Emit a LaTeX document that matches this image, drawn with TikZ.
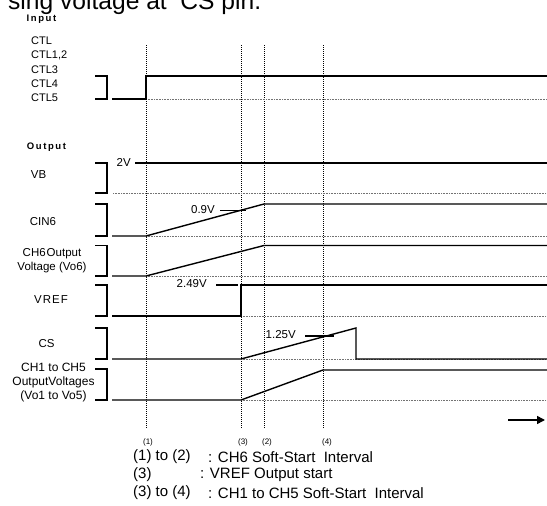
\documentclass[tikz,border=0pt]{standalone}
\usepackage{fontspec}
\setmainfont{Liberation Sans}
\usetikzlibrary{arrows.meta}
\begin{document}
\begin{tikzpicture}[x=1pt,y=-1pt,
  sig/.style={line width=1.4pt, line join=miter},
  brk/.style={line width=1.4pt},
  hbase/.style={line width=0.7pt, dash pattern=on 1pt off 0.6pt, black!55},
  vguide/.style={line width=0.6pt, dash pattern=on 1pt off 1pt, black},
  lab/.style={font=\fontsize{11.5}{14}\selectfont, align=center, inner sep=0pt},
  hdr/.style={font=\fontsize{9.5}{10}\selectfont\bfseries, inner sep=0pt},
  val/.style={font=\fontsize{11.5}{13}\selectfont, inner sep=0pt, anchor=east},
  pmark/.style={font=\fontsize{8}{9}\selectfont, inner sep=0pt},
  leg/.style={font=\fontsize{15}{17}\selectfont, inner sep=0pt, anchor=west},
  tickln/.style={line width=1.2pt}]
\useasboundingbox (0,0) rectangle (547,506);
\clip (0,0) rectangle (547,506);

% title fragment (cut off at top)
\node[font=\fontsize{24.6}{28}\selectfont, inner sep=0pt, anchor=base west] (title) at (8,9.5) {sing voltage at\ \ CS pin.};

% time points
\foreach \n/\x in {t1/146, t3/241, t2/264, t4/323} {
  \coordinate (\n top) at (\x,45);
  \coordinate (\n bot) at (\x,429);
  \draw[vguide] (\n top) -- (\n bot);
}

% headers
\node[hdr] (input) at (41.5,19) {I\kern1.6pt n\kern1.6pt p\kern1.6pt u\kern1.6pt t};
\node[hdr] (output) at (46.5,147) {O\kern1.6pt u\kern1.6pt t\kern1.6pt p\kern1.6pt u\kern1.6pt t};

% ---------- CTL ----------
\foreach \t/\y [count=\i] in {CTL/41, CTL1{,}2/55, CTL3/70, CTL4/84, CTL5/98}
  \node[lab, font=\fontsize{11}{13}\selectfont, anchor=west] (ctl\i) at (31,\y) {\t};
\draw[brk] (95,76) -- (107,76) -- (107,99) -- (95,99);
\draw[hbase] (146,99) -- (547,99);
\draw[sig] (112,99) -- (146,99) -- (146,76) -- (547,76);

% ---------- VB ----------
\node[lab] (vb) at (38.5,175) {VB};
\draw[brk] (95,163) -- (107,163) -- (107,193) -- (95,193);
\draw[hbase] (113,193) -- (547,193);
\node[val] (v2) at (131,162) {2V};
\draw[sig] (135,163) -- (547,163);

% ---------- CIN6 ----------
\node[lab] (cin6) at (43,222) {CIN6};
\draw[brk] (95,204) -- (107,204) -- (107,236) -- (95,236);
\draw[hbase] (146,236) -- (547,236);
\draw[sig] (112,236) -- (146,236) -- (264,204) -- (547,204);
\node[val] (v09) at (215,210) {0.9V};
\draw[tickln] (220,210.5) -- (246,210.5);

% ---------- CH6 output ----------
\node[lab] (vo6) at (52,261) {CH6\kern1pt Output\\Voltage (Vo6)};
\draw[brk] (95,245.5) -- (107,245.5) -- (107,276) -- (95,276);
\draw[hbase] (146,276) -- (547,276);
\draw[sig] (112,276) -- (146,276) -- (264,245.5) -- (547,245.5);

% ---------- VREF ----------
\node[lab] (vref) at (51,300) {V\kern1pt R\kern1pt E\kern1pt F};
\draw[brk] (95,285) -- (107,285) -- (107,316) -- (95,316);
\draw[hbase] (241,316) -- (547,316);
\draw[sig] (112,316) -- (241,316) -- (241,285) -- (547,285);
\node[val] (v249) at (207,284) {2.49V};
\draw[tickln] (216,285) -- (238,285);

% ---------- CS ----------
\node[lab] (cs) at (46.5,344) {CS};
\draw[brk] (95,328) -- (107,328) -- (107,359) -- (95,359);
\draw[hbase] (241,359) -- (547,359);
\draw[sig] (112,359) -- (241,359) -- (356,328) -- (356,359) -- (547,359);
\node[val] (v125) at (296,335) {1.25V};
\draw[tickln] (305,336) -- (334,336);

% ---------- CH1..CH5 ----------
\node[lab, font=\fontsize{12}{14}\selectfont] (vo15) at (53.5,383) {CH1 to CH5\\OutputVoltages\\(Vo1 to Vo5)};
\draw[brk] (95,369) -- (107,369) -- (107,400) -- (95,400);
\draw[hbase] (241,400) -- (547,400);
\draw[sig] (112,400) -- (241,400) -- (323,370) -- (547,370);

% time arrow
\coordinate (arrS) at (508,420);
\coordinate (arrE) at (545,420);
\draw[line width=1.5pt, -{Triangle[length=8pt,width=8pt]}] (arrS) -- (arrE);

% point markers
\node[pmark] (m1) at (148,442) {(1)};
\node[pmark] (m3) at (243,442) {(3)};
\node[pmark] (m2) at (267,442) {(2)};
\node[pmark] (m4) at (327,442) {(4)};

% legend
\node[leg] (l1a) at (133,457) {(1) to (2)};
\node[leg] (l1b) at (208,457) {: CH6 Soft-Start\ \ Interval};
\node[leg] (l2a) at (133,475) {(3)};
\node[leg] (l2b) at (200,475) {: VREF Output start};
\node[leg] (l3a) at (133,493) {(3) to (4)};
\node[leg] (l3b) at (208,493) {: CH1 to CH5 Soft-Start\ \ Interval};
\end{tikzpicture}
\end{document}
